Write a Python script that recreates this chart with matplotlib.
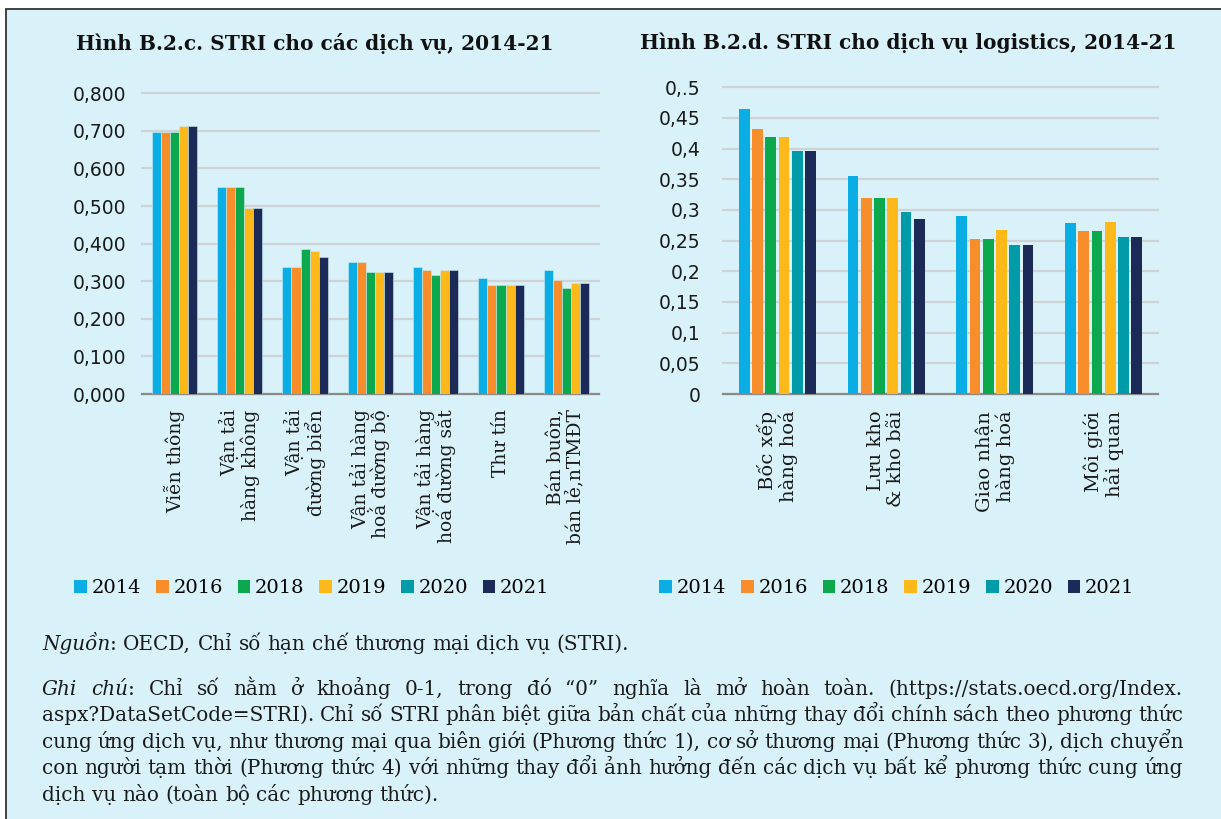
import numpy as np
import matplotlib.pyplot as plt
from matplotlib.patches import Rectangle, Patch

W, H = 1221, 819
BG = '#d9f2f9'

# STRI by service sector (left panel, 2020 not reported)
services = ['Viễn thông', 'Vận tải\nhàng không', 'Vận tải\nđường biển',
            'Vận tải hàng\nhoá đường bộ', 'Vận tải hàng\nhoá đường sắt',
            'Thư tín', 'Bán buôn,\nbán lẻ,nTMĐT']
svc_2014 = [0.696, 0.550, 0.338, 0.350, 0.338, 0.308, 0.330]
svc_2016 = [0.696, 0.550, 0.338, 0.350, 0.330, 0.290, 0.303]
svc_2018 = [0.696, 0.550, 0.385, 0.325, 0.317, 0.290, 0.282]
svc_2019 = [0.714, 0.494, 0.380, 0.325, 0.330, 0.290, 0.295]
svc_2021 = [0.714, 0.494, 0.364, 0.325, 0.330, 0.290, 0.295]

# STRI for logistics services (right panel)
logistics = ['Bốc xếp\nhàng hoá', 'Lưu kho\n& kho bãi', 'Giao nhận\nhàng hoá', 'Môi giới\nhải quan']
log_2014 = [0.465, 0.355, 0.291, 0.278]
log_2016 = [0.432, 0.320, 0.253, 0.266]
log_2018 = [0.419, 0.320, 0.253, 0.266]
log_2019 = [0.419, 0.320, 0.268, 0.281]
log_2020 = [0.396, 0.296, 0.243, 0.256]
log_2021 = [0.396, 0.286, 0.243, 0.256]

years = ['2014', '2016', '2018', '2019', '2020', '2021']
colors = {'2014': '#0aaee4', '2016': '#f78e2b', '2018': '#0ba84d',
          '2019': '#fdb81a', '2020': '#009ba8', '2021': '#1b2a56'}

left_ticks = [0, 0.1, 0.2, 0.3, 0.4, 0.5, 0.6, 0.7, 0.8]
left_ticklabels = ['0,000', '0,100', '0,200', '0,300', '0,400', '0,500', '0,600', '0,700', '0,800']
right_ticks = [0, 0.05, 0.1, 0.15, 0.2, 0.25, 0.3, 0.35, 0.4, 0.45, 0.5]
right_ticklabels = ['0', '0,05', '0,1', '0,15', '0,2', '0,25', '0,3', '0,35', '0,4', '0,45', '0,.5']

fig = plt.figure(figsize=(W / 100, H / 100), dpi=100)
fig.patch.set_facecolor('white')
fig.patches.append(Rectangle((6 / W, -0.05), 1.1, 1 - 9 / H + 0.05, transform=fig.transFigure,
                             facecolor=BG, edgecolor='#333333', lw=1.3, zorder=-10))


def px(x, y):
    return x / W, 1 - y / H


def style_axes(ax, ticks, labels, top):
    ax.set_facecolor('none')
    ax.set_ylim(0, top)
    ax.set_yticks(ticks)
    ax.set_yticklabels(labels, fontfamily='DejaVu Sans', fontsize=13.5, color='#1a1a1a')
    ax.yaxis.grid(True, color='#cfd3d6', lw=1.6)
    for gl in ax.get_ygridlines():
        gl.set_clip_on(False)
    ax.set_axisbelow(True)
    for s in ['top', 'right', 'left']:
        ax.spines[s].set_visible(False)
    ax.spines['bottom'].set_color('#8a8a8a')
    ax.spines['bottom'].set_linewidth(1.6)
    ax.tick_params(axis='both', length=0)


# left panel
x0, y1 = px(141.7, 394)
x1, y0 = px(599, 93.3)
ax1 = fig.add_axes([x0, y1, x1 - x0, y0 - y1])
left_series = [('2014', svc_2014), ('2016', svc_2016), ('2018', svc_2018),
               ('2019', svc_2019), ('2021', svc_2021)]
xs = np.arange(len(services)) + 0.5
bw = 0.138
for i, (yr, vals) in enumerate(left_series):
    ax1.bar(xs + (i - 2) * bw, vals, width=bw, color=colors[yr],
            edgecolor='#c9ecf7', lw=0.4, zorder=3)
ax1.set_xlim(0, len(services))
style_axes(ax1, left_ticks, left_ticklabels, 0.8)
ax1.tick_params(axis='y', pad=11)
ax1.set_xticks(xs)
ax1.set_xticklabels(services, rotation=90, fontfamily='DejaVu Serif', fontsize=13.5,
                    color='#1a1a1a', multialignment='right', linespacing=1.05)
ax1.tick_params(axis='x', pad=11)

# right panel
x0, y1 = px(723, 394)
x1, y0 = px(1158, 87.3)
ax2 = fig.add_axes([x0, y1, x1 - x0, y0 - y1])
right_series = [('2014', log_2014), ('2016', log_2016), ('2018', log_2018),
                ('2019', log_2019), ('2020', log_2020), ('2021', log_2021)]
xs = np.arange(len(logistics)) + 0.5
pitch = 0.122
for i, (yr, vals) in enumerate(right_series):
    ax2.bar(xs + (i - 2.5) * pitch, vals, width=0.098, color=colors[yr], edgecolor='none', zorder=3)
ax2.set_xlim(0, len(logistics))
style_axes(ax2, right_ticks, right_ticklabels, 0.5)
ax2.tick_params(axis='y', pad=16)
ax2.set_xticks(xs)
ax2.set_xticklabels(logistics, rotation=90, fontfamily='DejaVu Serif', fontsize=14,
                    color='#1a1a1a', multialignment='right', linespacing=1.1)
ax2.tick_params(axis='x', pad=12)

# titles
fig.text(*px(315, 43), 'Hình B.2.c. STRI cho các dịch vụ, 2014-21', ha='center', va='center',
         fontfamily='DejaVu Serif', fontweight='bold', fontsize=14.5, color='#111111')
fig.text(*px(908, 43), 'Hình B.2.d. STRI cho dịch vụ logistics, 2014-21', ha='center', va='center',
         fontfamily='DejaVu Serif', fontweight='bold', fontsize=14.5, color='#111111')

# legends
handles = [Patch(facecolor=colors[y], edgecolor='none', label=y) for y in years]
for cx in (312, 897):
    fig.legend(handles=handles, loc='center', bbox_to_anchor=px(cx, 588), ncol=6, frameon=False,
               prop={'family': 'DejaVu Serif', 'size': 14}, handlelength=0.65, handleheight=0.65,
               handletextpad=0.25, columnspacing=0.75, borderpad=0)

# footnotes, justified word by word
renderer = fig.canvas.get_renderer()
FS = 14.4


def run_width(text, italic):
    t = fig.text(0, 0, text, fontfamily='DejaVu Serif', fontsize=FS,
                 fontstyle='italic' if italic else 'normal')
    w = t.get_window_extent(renderer).width
    t.remove()
    return w


def plain(s):
    return [[(w, False)] for w in s.split()]


source_words = [[('Nguồn', True), (':', False)]] + plain('OECD, Chỉ số hạn chế thương mại dịch vụ (STRI).')
note_lines = [
    'Chỉ số nằm ở khoảng 0-1, trong đó “0” nghĩa là mở hoàn toàn. (https://stats.oecd.org/Index.',
    'aspx?DataSetCode=STRI). Chỉ số STRI phân biệt giữa bản chất của những thay đổi chính sách theo phương thức',
    'cung ứng dịch vụ, như thương mại qua biên giới (Phương thức 1), cơ sở thương mại (Phương thức 3), dịch chuyển',
    'con người tạm thời (Phương thức 4) với những thay đổi ảnh hưởng đến các dịch vụ bất kể phương thức cung ứng',
    'dịch vụ nào (toàn bộ các phương thức).',
]
note_words = [[[('Ghi', True)], [('chú', True), (':', False)]] + plain(note_lines[0])]
note_words += [plain(s) for s in note_lines[1:]]

XL, XR = 42, 1183


def natural(words):
    return sum(run_width(t, it) for w in words for t, it in w)


# shrink the note font until every justified line still keeps a real space
while True:
    space_w = run_width('a a', False) - run_width('aa', False)
    ok = all(natural(ws) + 0.8 * space_w * (len(ws) - 1) <= XR - XL for ws in note_words[:4])
    if ok or FS < 10:
        break
    FS -= 0.2


def draw_line(words, y, justify):
    widths = [[run_width(t, it) for t, it in w] for w in words]
    total = sum(sum(ws) for ws in widths)
    gap = (XR - XL - total) / (len(words) - 1) if justify else space_w
    x = XL
    for w, ws in zip(words, widths):
        for (t, it), rw in zip(w, ws):
            fig.text(x / W, 1 - y / H, t, fontfamily='DejaVu Serif', fontsize=FS,
                     fontstyle='italic' if it else 'normal', color='#1a1a1a',
                     ha='left', va='baseline')
            x += rw
        x += gap


draw_line(source_words, 650, False)
for k, ws in enumerate(note_words):
    draw_line(ws, 695 + 26.4 * k, k < 4)

fig.savefig('out.png', dpi=100, facecolor=fig.get_facecolor())
